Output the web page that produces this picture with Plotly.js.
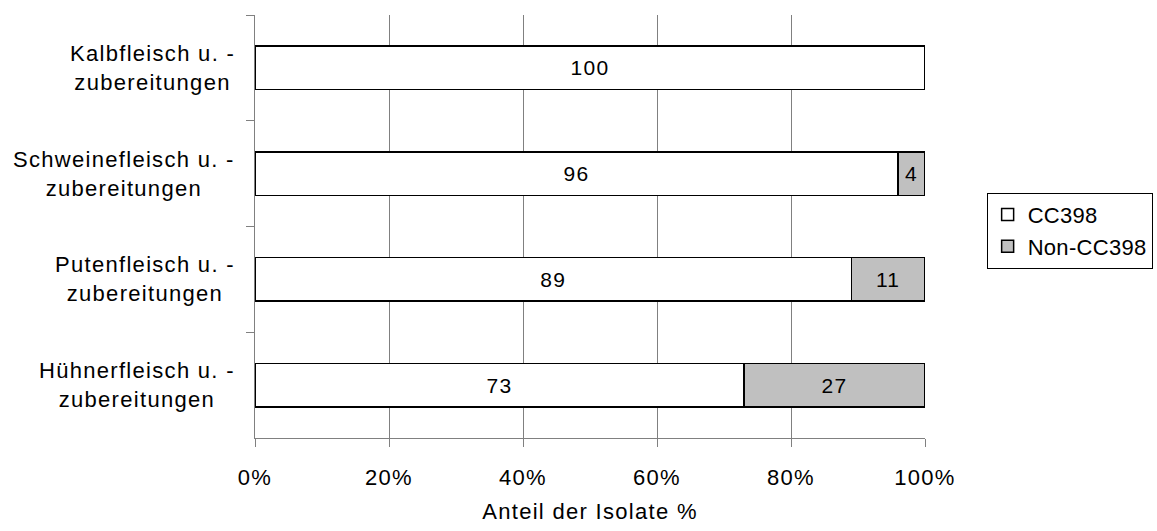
<!DOCTYPE html>
<html>
<head>
<meta charset="utf-8">
<script src="https://cdn.plot.ly/plotly-3.0.1.min.js"></script>
<style>html,body{margin:0;padding:0;background:#fff;}#chart{width:1157px;height:531px;}text{letter-spacing:1.3px;}text.legendtext{letter-spacing:0.3px;}</style>
</head>
<body>
<div id="chart"></div>
<script>
const categories = ["Kalbfleisch u. -<br>zubereitungen", "Schweinefleisch u. -<br>zubereitungen", "Putenfleisch u. -<br>zubereitungen", "Hühnerfleisch u. -<br>zubereitungen"];
const cc398 = [100, 96, 89, 73];
const nonCC398 = [0, 4, 11, 27];
const xTickVals = [0, 20, 40, 60, 80, 100];
const xTickText = ["0%", "20%", "40%", "60%", "80%", "100%"];
const seriesNames = ["CC398", "Non-CC398"];

const font = {family: "Liberation Sans, Arial, sans-serif", size: 22, color: "#000"};

const traces = [
  {
    type: "bar", orientation: "h", name: seriesNames[0],
    y: categories, x: cc398,
    text: cc398.map(v => v > 0 ? String(v) : ""),
    textposition: "inside", insidetextanchor: "middle", constraintext: "none",
    textfont: {family: font.family, size: 21, color: "#000"},
    marker: {color: "#ffffff", line: {color: "#000", width: 1.5}},
    hoverinfo: "none"
  },
  {
    type: "bar", orientation: "h", name: seriesNames[1],
    y: categories, x: nonCC398,
    text: nonCC398.map(v => v > 0 ? String(v) : ""),
    textposition: "inside", insidetextanchor: "middle", constraintext: "none",
    textfont: {family: font.family, size: 21, color: "#000"},
    marker: {color: "#c0c0c0", line: {color: "#000", width: 1.5}},
    hoverinfo: "none"
  }
];

const annotations = categories.map(c => ({
  xref: "paper", yref: "y", x: -0.027, y: c, text: c,
  xanchor: "right", yanchor: "middle", align: "center",
  showarrow: false, font: font
}));

const layout = {
  width: 1157, height: 531,
  margin: {l: 255, r: 232, t: 15, b: 93, autoexpand: false},
  paper_bgcolor: "#fff", plot_bgcolor: "#fff",
  font: font,
  barmode: "stack",
  bargap: 0.59,
  showlegend: true,
  legend: {
    x: 1.092, xanchor: "left", y: 0.49, yanchor: "middle",
    bordercolor: "#000", borderwidth: 1, bgcolor: "#fff",
    font: font, traceorder: "normal", itemclick: false, itemwidth: 30
  },
  xaxis: {
    range: [0, 100], tickvals: xTickVals, ticktext: xTickText,
    showgrid: true, gridcolor: "#808080", gridwidth: 1,
    showline: true, linecolor: "#808080", linewidth: 1,
    ticks: "outside", ticklen: 8, tickcolor: "#808080",
    ticklabelstandoff: 12,
    zeroline: false, fixedrange: true,
    title: {text: "Anteil der Isolate %", font: font, standoff: 14},
    tickfont: font
  },
  yaxis: {
    autorange: "reversed",
    showticklabels: false,
    showline: true, linecolor: "#808080", linewidth: 1,
    ticks: "outside", ticklen: 8, tickcolor: "#808080",
    tickson: "boundaries",
    showgrid: false, zeroline: false, fixedrange: true
  },
  annotations: annotations
};

Plotly.newPlot("chart", traces, layout, {displayModeBar: false, staticPlot: true});
</script>
</body>
</html>
